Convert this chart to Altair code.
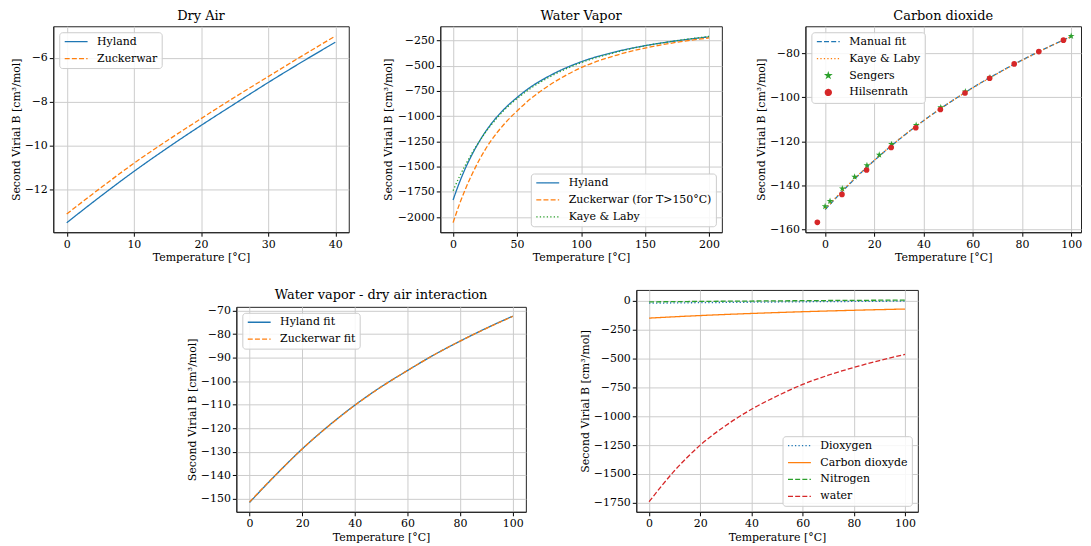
import math
import altair as alt
import pandas as pd

FONT = "DejaVu Serif"
BLUE, ORANGE, GREEN, RED = "#1f77b4", "#ff7f0e", "#2ca02c", "#d62728"
SOLID = [1, 0]
DASHED = [5, 2.2]
DOTTED = [1.3, 2.2]
LW = 1.3

X_TITLE = "Temperature [°C]"
Y_TITLE = "Second Virial B [cm³/mol]"

# ---------------- data ----------------
T_DRY = [0, 5, 10, 15, 20, 25, 30, 35, 40]
B_DRY_HYLAND = [-13.50, -12.31, -11.17, -10.10, -9.08, -8.10, -7.13, -6.20, -5.30]
B_DRY_ZUCKERWAR = [-13.10, -11.93, -10.80, -9.76, -8.77, -7.80, -6.86, -5.93, -5.02]

T_WV = [0, 5, 10, 15, 20, 25, 30, 40, 50, 60, 75, 100, 125, 150, 175, 200]
B_WV_HYLAND = [-1830, -1656, -1506, -1376, -1261, -1160, -1073, -929, -815, -717, -603, -462, -369, -302, -253, -215]
B_WV_ZUCKERWAR = [-2055, -1871, -1711, -1571, -1445, -1334, -1237, -1078, -949, -834, -696, -520, -406, -326, -268, -225]
B_WV_KAYE = [-1740, -1598, -1476, -1362, -1261, -1166, -1084, -940, -827, -730, -615, -471, -375, -304, -252, -210]

T_CO2 = [0, 10, 20, 30, 40, 50, 60, 70, 80, 90, 100]
B_CO2_MANUAL = [-151.0, -139.3, -128.7, -119.2, -110.6, -102.8, -95.6, -89.1, -83.1, -77.5, -72.3]
B_CO2_KAYE = [-150.7, -139.1, -128.6, -119.1, -110.6, -102.8, -95.7, -89.2, -83.2, -77.6, -72.4]
T_SENGERS = [0, 2, 7, 12, 17, 22, 27, 37, 47, 57, 67, 100]
B_SENGERS = [-149.5, -147.2, -141.5, -136.1, -130.9, -126.1, -121.3, -112.6, -104.6, -97.4, -91.0, -72.2]
T_HILSENRATH = [-3.15, 6.85, 16.85, 26.85, 36.85, 46.85, 56.85, 66.85, 76.85, 86.85, 96.85]
B_HILSENRATH = [-156.8, -144.1, -133.0, -122.8, -113.8, -105.5, -98.0, -91.3, -84.8, -79.2, -74.0]

T_INT = [0, 10, 20, 30, 40, 50, 60, 70, 80, 90, 100]
B_INT_HYLAND = [-151.5, -139.8, -128.8, -119.0, -110.2, -102.4, -95.5, -88.9, -83.0, -77.5, -72.4]
B_INT_ZUCKERWAR = [-151.3, -139.7, -128.8, -119.1, -110.3, -102.5, -95.5, -88.9, -83.0, -77.6, -72.5]

T_OV = [0, 10, 20, 30, 40, 50, 60, 70, 80, 90, 100]
B_OV_O2 = [-22.0, -19.6, -17.3, -15.2, -13.2, -11.4, -9.7, -8.1, -6.6, -5.2, -3.9]
B_OV_CO2 = [-151.0, -139.3, -128.7, -119.2, -110.6, -102.8, -95.6, -89.1, -83.1, -77.5, -72.3]
B_OV_N2 = [-10.3, -8.3, -6.4, -4.6, -3.0, -1.4, 0.0, 1.4, 2.7, 3.9, 5.0]
B_OV_WATER = [-1740, -1470, -1250, -1080, -940, -825, -725, -645, -578, -518, -465]

LINE_SYM = "M-1.333,0L6.333,0"


def star_path(R, cx=0.0):
    pts = []
    for k in range(10):
        ang = -math.pi / 2 + k * math.pi / 5
        rr = R if k % 2 == 0 else R * 0.382
        pts.append((cx + rr * math.cos(ang), rr * math.sin(ang)))
    return "M" + "L".join(f"{x:.3f},{y:.3f}" for x, y in pts) + "Z"


STAR_PLOT = star_path(1.0)
STAR_LEG = star_path(0.85, 2.5)
CIRC_LEG = "M3.5,0A1,1,0,1,1,1.5,0A1,1,0,1,1,3.5,0Z"


def make_legend(orient, symbol=True):
    kw = dict(title=None, orient=orient, offset=6, symbolSize=36,
              symbolStrokeWidth=LW, labelOffset=23, padding=4, rowPadding=5,
              labelFont=FONT, labelFontSize=11, labelColor="black",
              fillColor="rgba(255,255,255,0.85)", strokeColor="#cccccc",
              cornerRadius=3, labelLimit=300)
    if symbol:
        kw["symbolType"] = LINE_SYM
    return alt.Legend(**kw)


def xaxis(vals):
    return alt.Axis(values=vals, title=X_TITLE, format="d", minExtent=17,
                    maxExtent=17, titlePadding=2.5, labelFont=FONT, titleFont=FONT,
                    labelFontSize=11, titleFontSize=11, titleFontWeight="normal")


def yaxis(vals, ext):
    return alt.Axis(values=vals, title=Y_TITLE, format="d", minExtent=ext,
                    maxExtent=ext, titlePadding=3, labelFont=FONT, titleFont=FONT,
                    labelFontSize=11, titleFontSize=11, titleFontWeight="normal")


def title(text):
    return alt.TitleParams(text, font=FONT, fontSize=13, fontWeight="normal",
                           color="black", offset=3, anchor="middle")


def line_panel(series, names, colors, dashes, xdom, ydom, xt, yt, w, h, ext,
               orient, ttl=None):
    rows = []
    for name, (ts, vs) in zip(names, series):
        for t, v in zip(ts, vs):
            rows.append({"T": t, "B": v, "series": name})
    df = pd.DataFrame(rows)
    leg = make_legend(orient)
    ch = alt.Chart(df).mark_line(strokeWidth=LW, clip=True, interpolate="monotone").encode(
        x=alt.X("T:Q", scale=alt.Scale(domain=xdom, nice=False, zero=False), axis=xaxis(xt)),
        y=alt.Y("B:Q", scale=alt.Scale(domain=ydom, nice=False, zero=False), axis=yaxis(yt, ext)),
        color=alt.Color("series:N", scale=alt.Scale(domain=names, range=colors), legend=leg),
        strokeDash=alt.StrokeDash("series:N", scale=alt.Scale(domain=names, range=dashes), legend=leg),
        order=alt.Order("T:Q"),
    ).properties(width=w, height=h)
    if ttl:
        ch = ch.properties(title=title(ttl))
    return ch


p1 = line_panel(
    [(T_DRY, B_DRY_HYLAND), (T_DRY, B_DRY_ZUCKERWAR)],
    ["Hyland", "Zuckerwar"], [BLUE, ORANGE], [SOLID, DASHED],
    [-2, 42], [-13.93, -4.575], [0, 10, 20, 30, 40], [-12, -10, -8, -6],
    297, 207, 28.5, "top-left", "Dry Air")

p2 = line_panel(
    [(T_WV, B_WV_HYLAND), (T_WV, B_WV_ZUCKERWAR), (T_WV, B_WV_KAYE)],
    ["Hyland", "Zuckerwar (for T>150°C)", "Kaye & Laby"], [BLUE, ORANGE, GREEN],
    [SOLID, DASHED, DOTTED],
    [-10, 210], [-2150, -110], [0, 50, 100, 150, 200],
    [-2000, -1750, -1500, -1250, -1000, -750, -500, -250],
    283, 207, 44.2, "bottom-right", "Water Vapor")

CO2_NAMES = ["Manual fit", "Kaye & Laby", "Sengers", "Hilsenrath"]
xs3 = alt.Scale(domain=[-8, 104], nice=False, zero=False)
ys3 = alt.Scale(domain=[-161.3, -67.7], nice=False, zero=False)
X3 = alt.X("T:Q", scale=xs3, axis=xaxis([0, 20, 40, 60, 80, 100]))
Y3 = alt.Y("B:Q", scale=ys3, axis=yaxis([-160, -140, -120, -100, -80], 36.5))

df_manual = pd.DataFrame({"T": T_CO2, "B": B_CO2_MANUAL})
df_kaye = pd.DataFrame({"T": T_CO2, "B": B_CO2_KAYE})
df_sengers = pd.DataFrame({"T": T_SENGERS, "B": B_SENGERS})
df_hils = pd.DataFrame({"T": T_HILSENRATH, "B": B_HILSENRATH})
df_leg = pd.DataFrame({"series": CO2_NAMES, "T": [50, 50, 50, 50],
                       "B": [-100, -100, -100, -100]})

l_manual = alt.Chart(df_manual).mark_line(strokeWidth=LW, color=BLUE, strokeDash=DASHED,
                                          clip=True, interpolate="monotone").encode(x=X3, y=Y3)
l_kaye = alt.Chart(df_kaye).mark_line(strokeWidth=LW, color=ORANGE, strokeDash=DOTTED,
                                      clip=True, interpolate="monotone").encode(x=X3, y=Y3)
pt_sengers = alt.Chart(df_sengers).mark_point(shape=STAR_PLOT, filled=True, color=GREEN,
                                              size=52, opacity=1, strokeWidth=0,
                                              clip=True).encode(x=X3, y=Y3)
pt_hils = alt.Chart(df_hils).mark_circle(color=RED, size=32, opacity=1,
                                         clip=True).encode(x=X3, y=Y3)
leg3 = make_legend("top-left", symbol=False)
legend_layer = alt.Chart(df_leg).mark_point(opacity=0, size=36).encode(
    x=X3, y=Y3,
    fill=alt.Fill("series:N", scale=alt.Scale(domain=CO2_NAMES,
                  range=["transparent", "transparent", GREEN, RED]), legend=leg3),
    stroke=alt.Stroke("series:N", scale=alt.Scale(domain=CO2_NAMES,
                      range=[BLUE, ORANGE, GREEN, RED]), legend=leg3),
    shape=alt.Shape("series:N", scale=alt.Scale(domain=CO2_NAMES,
                    range=[LINE_SYM, LINE_SYM, STAR_LEG, CIRC_LEG]), legend=leg3),
    strokeDash=alt.StrokeDash("series:N", scale=alt.Scale(domain=CO2_NAMES,
                              range=[DASHED, DOTTED, SOLID, SOLID]), legend=leg3),
)
p3 = alt.layer(l_manual, l_kaye, pt_sengers, pt_hils, legend_layer).properties(
    width=277, height=207, title=title("Carbon dioxide"))

p4 = line_panel(
    [(T_INT, B_INT_HYLAND), (T_INT, B_INT_ZUCKERWAR)],
    ["Hyland fit", "Zuckerwar fit"], [BLUE, ORANGE], [SOLID, DASHED],
    [-5, 105], [-155.46, -68.44], [0, 20, 40, 60, 80, 100],
    [-150, -140, -130, -120, -110, -100, -90, -80, -70],
    291, 206, 36.5, "top-left", "Water vapor - dry air interaction")

p5 = line_panel(
    [(T_OV, B_OV_O2), (T_OV, B_OV_CO2), (T_OV, B_OV_N2), (T_OV, B_OV_WATER)],
    ["Dioxygen", "Carbon dioxyde", "Nitrogen", "water"], [BLUE, ORANGE, GREEN, RED],
    [DOTTED, SOLID, DASHED, DASHED],
    [-5, 105], [-1827, 93], [0, 20, 40, 60, 80, 100],
    [-1750, -1500, -1250, -1000, -750, -500, -250, 0],
    283, 223, 43.5, "bottom-right")


def spacer(w, h):
    return alt.Chart(pd.DataFrame({"a": [0]})).mark_point(opacity=0, size=1).encode(
        x=alt.X("a:Q", axis=None), y=alt.Y("a:Q", axis=None)
    ).properties(width=w, height=h, view=alt.ViewConfig(stroke="transparent"))


IND = dict(color="independent", strokeDash="independent", fill="independent",
           stroke="independent", shape="independent", x="independent", y="independent")
INDL = dict(color="independent", strokeDash="independent", fill="independent",
            stroke="independent", shape="independent")

p4_wrapped = alt.vconcat(spacer(10, 1), p4, spacing=-4).resolve_scale(**IND).resolve_legend(**INDL)

row1 = alt.hconcat(p1, p2, p3, spacing=32).resolve_scale(**IND).resolve_legend(**INDL)
row2 = alt.hconcat(spacer(80, 10), p4_wrapped, p5, spacing=52).resolve_scale(**IND).resolve_legend(**INDL)

chart = alt.vconcat(row1, row2, spacing=25).resolve_scale(**IND).resolve_legend(**INDL).properties(
    padding={"left": 2.5, "top": 0, "right": 0, "bottom": 0}
).configure(font=FONT).configure_axis(
    labelColor="black", titleColor="black",
    tickColor="black", tickSize=4, labelPadding=2,
    domainColor="#222222", domainWidth=1,
    grid=True, gridColor="#cccccc", gridWidth=1,
).configure_view(
    stroke="#222222", strokeWidth=1
).configure_legend(symbolOpacity=1)

chart.save("out.html", embed_options={"renderer": "svg", "actions": False})
